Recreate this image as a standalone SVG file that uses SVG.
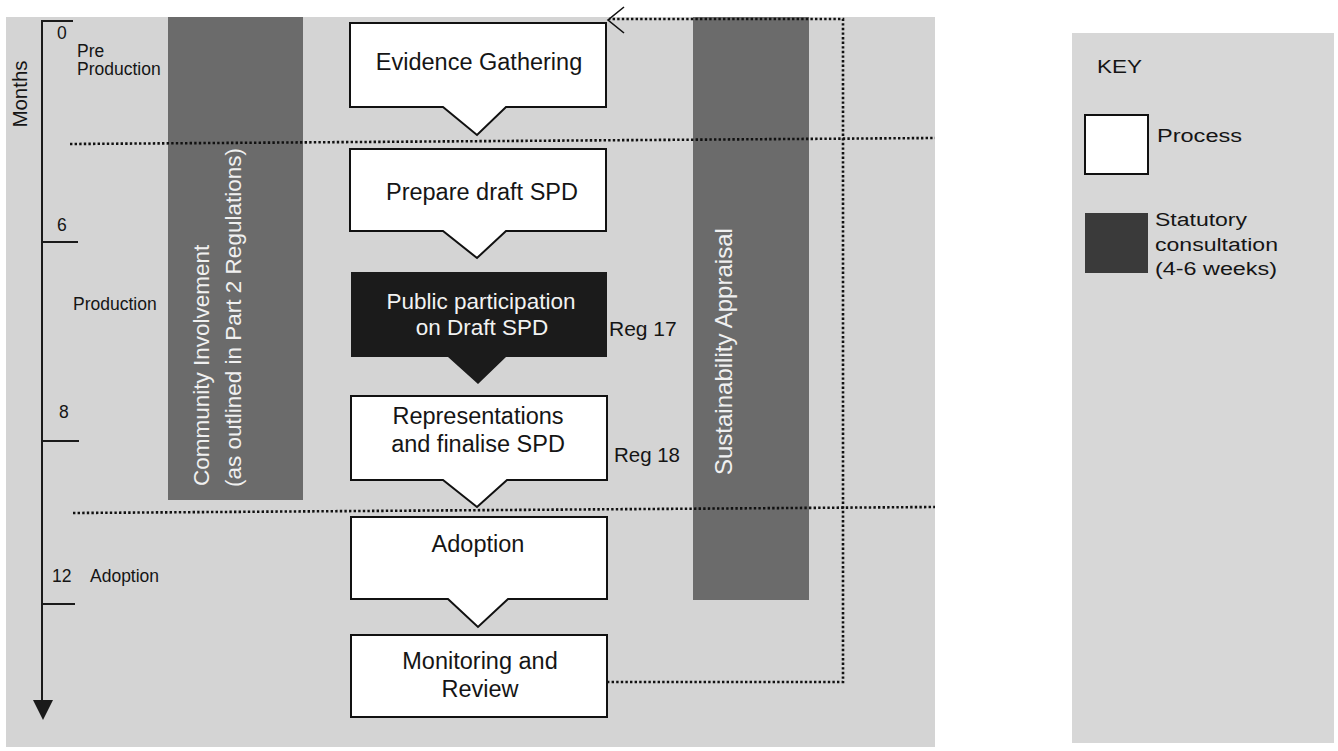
<svg xmlns="http://www.w3.org/2000/svg" width="1338" height="751" viewBox="0 0 1338 751">
  <defs>
    <style>
      text { font-family: "Liberation Sans", Arial, sans-serif; fill: #151515; }
      .box { fill: #ffffff; stroke: #111; stroke-width: 2; }
      .dark { fill: #1b1b1b; }
      .btxt { font-size: 23.5px; text-anchor: middle; }
      .wtxt { font-size: 22.5px; text-anchor: middle; fill: #f2f2f2; }
      .lbl { font-size: 17.5px; }
      .reg { font-size: 21px; }
      .bar { fill: #6b6b6b; }
      .bartxt { fill: #f0f0f0; }
      .dot { fill: none; stroke: #111; stroke-width: 2.6; stroke-dasharray: 2.4 2.2; }
      .axis { fill: none; stroke: #1a1a1a; stroke-width: 2; }
      .key { font-size: 18px; }
    </style>
  </defs>

  <rect x="0" y="0" width="1338" height="751" fill="#ffffff"/>
  <!-- main panel -->
  <rect x="6" y="17" width="929" height="730" fill="#d4d4d4"/>
  <!-- key panel -->
  <rect x="1072" y="33" width="262" height="710" fill="#d7d7d7"/>

  <!-- vertical bars -->
  <g id="community">
    <rect class="bar" x="168" y="17" width="135" height="483"/>
    <text class="bartxt" font-size="22.5" transform="translate(209,486) rotate(-90)">Community Involvement</text>
    <text class="bartxt" font-size="22.5" transform="translate(241,487) rotate(-90)">(as outlined in Part 2 Regulations)</text>
  </g>
  <g id="sustainability">
    <rect class="bar" x="693" y="17" width="116" height="583"/>
    <text class="bartxt" font-size="24" transform="translate(732,475) rotate(-90)">Sustainability Appraisal</text>
  </g>

  <!-- time axis -->
  <g id="axis">
    <path class="axis" d="M73,21 H42 V702"/>
    <polygon points="33,700 53,700 43,720" fill="#1a1a1a"/>
    <line class="axis" x1="42" y1="242" x2="78" y2="242"/>
    <line class="axis" x1="42" y1="441" x2="79" y2="441"/>
    <line class="axis" x1="42" y1="604" x2="75" y2="604"/>
    <text font-size="20.5" text-anchor="middle" transform="translate(27,94) rotate(-90)">Months</text>
    <text class="lbl" x="57" y="39" font-size="18">0</text>
    <text class="lbl" x="57" y="231" font-size="18">6</text>
    <text class="lbl" x="59" y="418" font-size="18">8</text>
    <text class="lbl" x="52" y="582" font-size="18">12</text>
    <text class="lbl" x="77" y="57">Pre</text>
    <text class="lbl" x="77" y="75">Production</text>
    <text class="lbl" x="73" y="310">Production</text>
    <text class="lbl" x="90" y="582">Adoption</text>
  </g>

  <!-- connectors / dotted lines -->
  <g id="connectors">
    <line class="dot" x1="70" y1="144" x2="935" y2="138"/>
    <line class="dot" x1="73" y1="513" x2="935" y2="507"/>
    <path class="dot" d="M607,682 H843 V19 H609"/>
    <path d="M624,7 L608,20 L624,33" fill="none" stroke="#111" stroke-width="1.6"/>
  </g>

  <!-- process nodes -->
  <g id="evidence">
    <path class="box" d="M350,23 H606 V107 H506 L477,135 L443,107 H350 Z"/>
    <text class="btxt" x="479" y="70">Evidence Gathering</text>
  </g>
  <g id="prepare">
    <path class="box" d="M350,149 H606 V231 H506 L477,258 L443,231 H350 Z"/>
    <text class="btxt" x="482" y="200">Prepare draft SPD</text>
  </g>
  <g id="public">
    <path class="dark" d="M351,272 H607 V357 H506 L478,384 L448,357 H351 Z"/>
    <text class="wtxt" x="481" y="309">Public participation</text>
    <text class="wtxt" x="482" y="335">on Draft SPD</text>
    <text class="reg" x="609" y="336">Reg 17</text>
  </g>
  <g id="representations">
    <path class="box" d="M351,396 H607 V480 H507 L477,507 L443,480 H351 Z"/>
    <text class="btxt" x="478" y="424">Representations</text>
    <text class="btxt" x="478" y="452">and finalise SPD</text>
    <text class="reg" x="614" y="462" textLength="66" lengthAdjust="spacingAndGlyphs">Reg 18</text>
  </g>
  <g id="adoption">
    <path class="box" d="M351,517 H607 V599 H508 L478,627 L448,599 H351 Z"/>
    <text class="btxt" x="478" y="552">Adoption</text>
  </g>
  <g id="monitoring">
    <rect class="box" x="351" y="635" width="256" height="82"/>
    <text class="btxt" x="480" y="669">Monitoring and</text>
    <text class="btxt" x="480" y="697">Review</text>
  </g>

  <!-- key -->
  <g id="legend">
    <text class="key" x="1097" y="73" font-size="17" textLength="45" lengthAdjust="spacingAndGlyphs">KEY</text>
    <rect x="1085" y="115" width="63" height="59" fill="#ffffff" stroke="#111" stroke-width="2"/>
    <text class="key" x="1157" y="142" textLength="85" lengthAdjust="spacingAndGlyphs">Process</text>
    <rect x="1085" y="213" width="63" height="60" fill="#3a3a3a"/>
    <text class="key" x="1155" y="226" textLength="92" lengthAdjust="spacingAndGlyphs">Statutory</text>
    <text class="key" x="1155" y="251" textLength="123" lengthAdjust="spacingAndGlyphs">consultation</text>
    <text class="key" x="1155" y="275" textLength="122" lengthAdjust="spacingAndGlyphs">(4-6 weeks)</text>
  </g>
</svg>
